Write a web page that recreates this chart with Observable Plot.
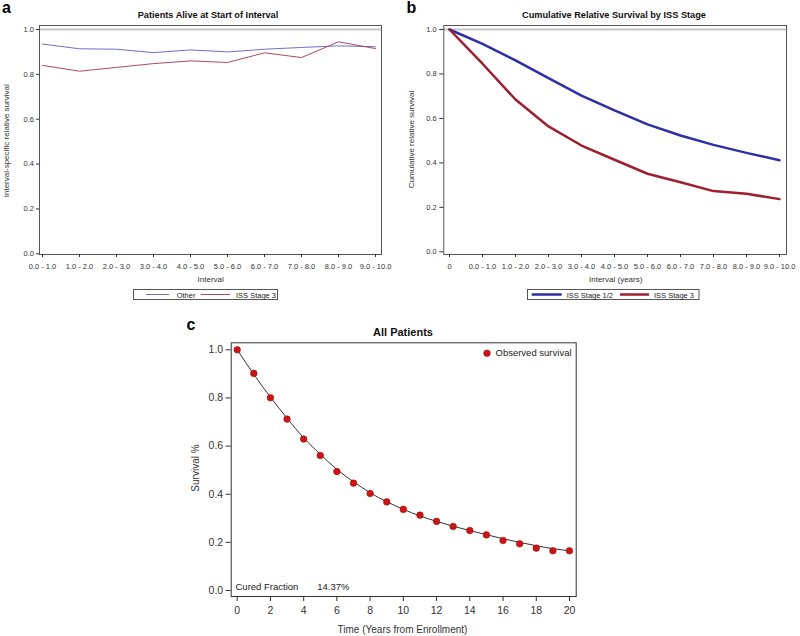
<!DOCTYPE html>
<html><head><meta charset="utf-8">
<script src="https://cdn.jsdelivr.net/npm/d3@7"></script>
<script src="https://cdn.jsdelivr.net/npm/@observablehq/plot@0.6"></script>
<style>
html,body{margin:0;padding:0;background:#fff;}
#root{position:relative;width:800px;height:636px;overflow:hidden;font-family:"Liberation Sans",Arial,Helvetica,sans-serif;}
#root svg{position:absolute;}
</style>
</head><body><div id="root"></div>
<script>
// ---------- data ----------
const intervalsA = ["0.0 - 1.0","1.0 - 2.0","2.0 - 3.0","3.0 - 4.0","4.0 - 5.0","5.0 - 6.0","6.0 - 7.0","7.0 - 8.0","8.0 - 9.0","9.0 - 10.0"];
const otherA  = [0.935,0.914,0.912,0.897,0.909,0.900,0.912,0.920,0.927,0.923];
const stage3A = [0.840,0.814,0.831,0.848,0.860,0.853,0.896,0.875,0.945,0.915];

const intervalsB = ["0","0.0 - 1.0","1.0 - 2.0","2.0 - 3.0","3.0 - 4.0","4.0 - 5.0","5.0 - 6.0","6.0 - 7.0","7.0 - 8.0","8.0 - 9.0","9.0 - 10.0"];
const stage12B = [1.000,0.935,0.861,0.781,0.703,0.636,0.573,0.523,0.481,0.445,0.412];
const stage3B  = [1.000,0.846,0.685,0.564,0.478,0.414,0.351,0.313,0.273,0.261,0.237];

const yearsC    = [0,1,2,3,4,5,6,7,8,9,10,11,12,13,14,15,16,17,18,19,20];
const observedC = [1.000,0.902,0.801,0.712,0.629,0.561,0.494,0.446,0.403,0.368,0.337,0.313,0.287,0.266,0.249,0.231,0.208,0.194,0.176,0.165,0.165];
const fittedC   = [1.000,0.898,0.803,0.716,0.634,0.566,0.503,0.452,0.406,0.369,0.337,0.310,0.287,0.267,0.249,0.232,0.215,0.200,0.186,0.174,0.165];

const yTicks = [0,0.2,0.4,0.6,0.8,1.0];
const xTicksC = [0,2,4,6,8,10,12,14,16,18,20];

const titleA = "Patients Alive at Start of Interval";
const titleB = "Cumulative Relative Survival by ISS Stage";
const titleC = "All Patients";
const xLabelA = "Interval", yLabelA = "Interval-specific relative survival";
const xLabelB = "Interval (years)", yLabelB = "Cumulative relative survival";
const xLabelC = "Time (Years from Enrollment)", yLabelC = "Survival %";
const seriesA = ["Other","ISS Stage 3"];
const seriesB = ["ISS Stage 1/2","ISS Stage 3"];
const legendC = "Observed survival";
const curedLabel = "Cured Fraction", curedValue = "14.37%";

const colA = ["#7070c6","#ab4a62"];
const colB = ["#2e2ea6","#9e1e2e"];
const colC = "#cc1414";

// ---------- build ----------
const root = document.getElementById("root");
const FF = "'Liberation Sans', Arial, Helvetica, sans-serif";
const fmt = d3.format(".1f");

function put(svg, left, top){ svg.style.left = left+"px"; svg.style.top = top+"px"; root.appendChild(svg); }

// Panel a
const rowsA = intervalsA.map((k,i)=>({k, other: otherA[i], s3: stage3A[i]}));
const plotA = Plot.plot({
  width:400, height:310, marginLeft:39, marginRight:19, marginTop:25, marginBottom:56,
  style:{fontFamily:FF, fontSize:"7.5px", color:"#333", background:"transparent"},
  x:{type:"point", domain:intervalsA, padding:0, insetLeft:1, insetRight:4},
  y:{domain:[0,1], insetTop:4, insetBottom:0.7},
  marks:[
    Plot.ruleY([1],{stroke:"#c6c6c6", strokeWidth:2}),
    Plot.line(rowsA,{x:"k", y:"other", stroke:colA[0], strokeWidth:1}),
    Plot.line(rowsA,{x:"k", y:"s3", stroke:colA[1], strokeWidth:1}),
    Plot.frame({stroke:"#555"}),
    Plot.axisX({tickSize:3, tickPadding:6, label:null}),
    Plot.axisY({ticks:yTicks, tickFormat:fmt, tickSize:3, tickPadding:2.5, label:null})
  ]
});
put(plotA, 0, 0);

// Panel b
const rowsB = intervalsB.map((k,i)=>({k, s12: stage12B[i], s3: stage3B[i]}));
const plotB = Plot.plot({
  width:400, height:310, marginLeft:43.3, marginRight:14, marginTop:25, marginBottom:56,
  style:{fontFamily:FF, fontSize:"7.5px", color:"#333", background:"transparent"},
  x:{type:"point", domain:intervalsB, padding:0, insetLeft:2.7, insetRight:4},
  y:{domain:[0,1], insetTop:4, insetBottom:2.7},
  marks:[
    Plot.ruleY([1],{stroke:"#c6c6c6", strokeWidth:2}),
    Plot.line(rowsB,{x:"k", y:"s12", stroke:colB[0], strokeWidth:2.5}),
    Plot.line(rowsB,{x:"k", y:"s3", stroke:colB[1], strokeWidth:2.5}),
    Plot.frame({stroke:"#555"}),
    Plot.axisX({tickSize:3, tickPadding:6, label:null}),
    Plot.axisY({ticks:yTicks, tickFormat:fmt, tickSize:4, tickPadding:3, label:null})
  ]
});
put(plotB, 400, 0);

// Panel c
const rowsC = yearsC.map((t,i)=>({t, obs: observedC[i], fit: fittedC[i]}));
const plotC = Plot.plot({
  width:450, height:326, marginLeft:80.7, marginRight:24.3, marginTop:32.3, marginBottom:40,
  style:{fontFamily:FF, fontSize:"10.5px", color:"#333", background:"transparent"},
  x:{domain:[0,20], insetLeft:6, insetRight:6.7},
  y:{domain:[0,1], insetTop:7, insetBottom:6},
  marks:[
    Plot.line(rowsC,{x:"t", y:"fit", stroke:"#333", strokeWidth:1, curve:"natural"}),
    Plot.dot(rowsC,{x:"t", y:"obs", r:3.3, fill:colC, stroke:"#a01010", strokeWidth:0.6}),
    Plot.dot({length:1},{frameAnchor:"top-right", dx:-89.2, dy:10.4, r:3.3, fill:colC, stroke:"#a01010", strokeWidth:0.6}),
    Plot.text([legendC],{frameAnchor:"top-right", dx:-80.7, dy:10.4, textAnchor:"start", lineAnchor:"middle", fontSize:9.5, fill:"#222"}),
    Plot.text([curedLabel],{frameAnchor:"bottom-left", dx:4.3, dy:-10, textAnchor:"start", lineAnchor:"middle", fontSize:9.5, fill:"#222"}),
    Plot.text([curedValue],{frameAnchor:"bottom-left", dx:86, dy:-10, textAnchor:"start", lineAnchor:"middle", fontSize:9.5, fill:"#222"}),
    Plot.frame({stroke:"#333"}),
    Plot.axisX({ticks:xTicksC, tickFormat:d=>d, tickSize:5, tickPadding:5.5, label:null}),
    Plot.axisY({ticks:yTicks, tickFormat:fmt, tickSize:5, tickPadding:3, label:null})
  ]
});
put(plotC, 150, 310);

// Overlay: panel letters, titles, axis titles, legends
const ns = "http://www.w3.org/2000/svg";
const ov = document.createElementNS(ns,"svg");
ov.setAttribute("width",800); ov.setAttribute("height",636);
ov.style.left="0px"; ov.style.top="0px"; ov.style.pointerEvents="none";
ov.setAttribute("font-family", FF);
function T(txt, x, y, o={}){
  const e = document.createElementNS(ns,"text");
  e.textContent = txt; e.setAttribute("x",x); e.setAttribute("y",y);
  e.setAttribute("font-size", o.size||8);
  e.setAttribute("fill", o.fill||"#222");
  if(o.bold) e.setAttribute("font-weight","bold");
  e.setAttribute("text-anchor", o.anchor||"start");
  if(o.rot) e.setAttribute("transform",`rotate(-90 ${x} ${y})`);
  e.style.whiteSpace="pre";
  ov.appendChild(e);
}
function R(x,y,w,h){
  const e = document.createElementNS(ns,"rect");
  e.setAttribute("x",x); e.setAttribute("y",y); e.setAttribute("width",w); e.setAttribute("height",h);
  e.setAttribute("fill","#fff"); e.setAttribute("stroke","#555"); e.setAttribute("stroke-width",1);
  ov.appendChild(e);
}
function L(x1,x2,y,c,w){
  const e = document.createElementNS(ns,"line");
  e.setAttribute("x1",x1); e.setAttribute("x2",x2); e.setAttribute("y1",y); e.setAttribute("y2",y);
  e.setAttribute("stroke",c); e.setAttribute("stroke-width",w);
  ov.appendChild(e);
}
// letters
T("a", 2, 12.5, {size:16, bold:true, fill:"#000"});
T("b", 406.5, 12.7, {size:16, bold:true, fill:"#000"});
T("c", 186.5, 330, {size:16, bold:true, fill:"#000"});
// titles
T(titleA, 208, 18.3, {size:9.2, bold:true, anchor:"middle", fill:"#111"});
T(titleB, 614, 18.3, {size:9.2, bold:true, anchor:"middle", fill:"#111"});
T(titleC, 403, 335.7, {size:11, bold:true, anchor:"middle", fill:"#111"});
// axis titles
T(xLabelA, 210.7, 282, {size:8, anchor:"middle", fill:"#333"});
T(xLabelB, 615.7, 282, {size:8, anchor:"middle", fill:"#333"});
T(yLabelA, 8.8, 140.8, {size:8, anchor:"middle", rot:true, fill:"#333"});
T(yLabelB, 414, 139.5, {size:8, anchor:"middle", rot:true, fill:"#333"});
T(xLabelC, 402.5, 633, {size:10, anchor:"middle", fill:"#333"});
T(yLabelC, 199, 468, {size:10, anchor:"middle", rot:true, fill:"#333"});
// legend a
R(133.5, 289.5, 144, 10);
L(146, 169, 294.5, colA[0], 1);
T(seriesA[0], 176.7, 297.5, {size:7.5, fill:"#222"});
L(200.7, 230, 294.5, colA[1], 1);
T(seriesA[1], 236, 297.5, {size:7.5, fill:"#222"});
// legend b
R(527.5, 289.5, 171.5, 10);
L(531.7, 561.7, 294.5, colB[0], 2.5);
T(seriesB[0], 566.7, 297.5, {size:7.5, fill:"#222"});
L(620, 649, 294.5, colB[1], 2.5);
T(seriesB[1], 654, 297.5, {size:7.5, fill:"#222"});
root.appendChild(ov);
</script>
</body></html>
